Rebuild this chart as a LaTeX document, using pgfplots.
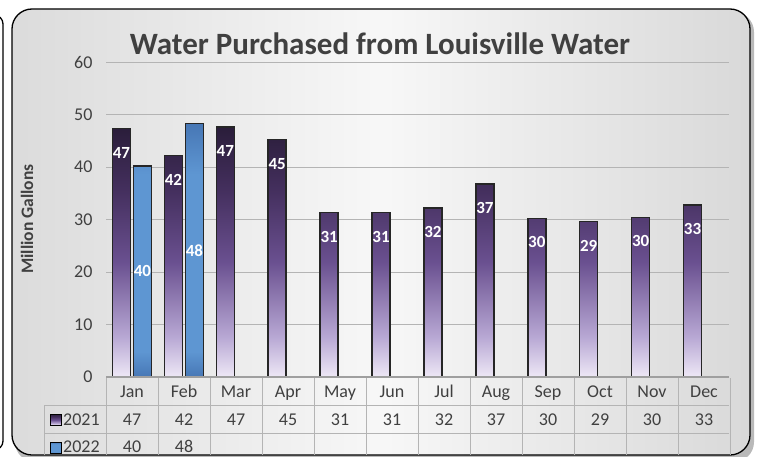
\documentclass[border=0pt]{standalone}
\usepackage{fontspec}
\setmainfont{Carlito}
\usepackage{pgfplots}
\pgfplotsset{compat=1.18}
\definecolor{txt}{HTML}{404040}
\definecolor{gridc}{HTML}{B4B4B4}
\definecolor{pA}{HTML}{2A1D3A}
\definecolor{pB}{HTML}{45305F}
\definecolor{pC}{HTML}{6A5090}
\definecolor{pD}{HTML}{B8A8D4}
\definecolor{pE}{HTML}{EEE8F6}
\definecolor{bA}{HTML}{4777B5}
\definecolor{bB}{HTML}{5E96D2}
\pgfdeclareverticalshading{purpbar}{100bp}{color(0bp)=(pE); color(25bp)=(pE); color(33bp)=(pD); color(48bp)=(pC); color(62bp)=(pB); color(75bp)=(pA); color(100bp)=(pA)}
\pgfdeclareverticalshading{bluebar}{100bp}{color(0bp)=(bA); color(25bp)=(bA); color(30bp)=(bB); color(65bp)=(bB); color(75bp)=(bA); color(100bp)=(bA)}

\begin{document}
\begin{tikzpicture}[x=1pt,y=1pt, cell/.style={text=txt, font=\fontsize{18}{18}\selectfont, anchor=base, inner sep=0pt}]
\useasboundingbox (0,0) rectangle (757,456);
% edge of the neighbouring panel
\draw[line width=1.3pt, rounded corners=9pt] (-20,441) -- (3,441) -- (3,6) -- (-20,6);
% panel with shadow
\fill[gray!55, rounded corners=20pt] (15,-6) rectangle (754,444);
\shade[left color=gray!28, right color=gray!30, middle color=gray!6, rounded corners=20pt] (12,1) rectangle (750,447);
\draw[line width=1.3pt, rounded corners=20pt] (12,1) rectangle (750,447);

% title and axis label
\node[anchor=base, text=txt, font=\bfseries\fontsize{31}{31}\selectfont] at (380,401) {Water Purchased from Louisville Water};
\node[rotate=90, text=txt, font=\bfseries\fontsize{17.5}{17.5}\selectfont] at (27,237) {Million Gallons};

\begin{axis}[
  at={(106pt,79pt)}, anchor=south west,
  scale only axis, width=623pt, height=315pt,
  xmin=-0.5, xmax=11.5, ymin=0, ymax=60,
  xtick=\empty, ytick={0,10,...,60},
  axis line style={draw=none},
  tick style={draw=none},
  ymajorgrids, grid style={gridc, line width=0.9pt},
  /pgf/number format/assume math mode=true,
  yticklabel style={text=txt, font=\fontsize{18}{18}\selectfont, xshift=-10pt},
  ybar=3pt, bar width=18pt,
  point meta=explicit symbolic,
  nodes near coords,
  clip=false,
]
\addplot[draw=black!85, line width=1.5pt, shading=purpbar,
  nodes near coords style={text=white, font=\bfseries\fontsize{17}{17}\selectfont, anchor=center, yshift=-24pt}]
  coordinates {(0,47.3)[47] (1,42.2)[42] (2,47.6)[47] (3,45.2)[45] (4,31.3)[31] (5,31.3)[31]
               (6,32.2)[32] (7,36.8)[37] (8,30.2)[30] (9,29.6)[29] (10,30.4)[30] (11,32.8)[33]};
\addplot[draw=black!85, line width=1.5pt, shading=bluebar,
  visualization depends on={rawy \as \rawy},
  nodes near coords style={text=white, font=\bfseries\fontsize{17}{17}\selectfont, anchor=center, yshift=-2.625pt*\rawy}]
  coordinates {(0,40.2)[40] (1,48.3)[48]};
\end{axis}

% data table under the axis
\foreach \k in {0,...,12} \draw[gridc, line width=1pt] (106+52*\k,78) -- (106+52*\k,1);
\draw[gridc, line width=1pt] (44,51) -- (729,51);
\draw[gridc, line width=1pt] (44,23) -- (729,23);
\draw[gridc, line width=1pt] (44,51) -- (44,1);
\draw[gray!75, line width=1.6pt] (106,79) -- (729,79);
\foreach \m [count=\i from 0] in {Jan,Feb,Mar,Apr,May,Jun,Jul,Aug,Sep,Oct,Nov,Dec}
  \node[cell] at (132+52*\i,59) {\m};
\foreach \v [count=\i from 0] in {47,42,47,45,31,31,32,37,30,29,30,33}
  \node[cell] at (132+52*\i,31) {\v};
\foreach \v [count=\i from 0] in {40,48}
  \node[cell] at (132+52*\i,4) {\v};
\shade[shading=purpbar, draw=black, line width=1pt] (50,31) rectangle (61,42);
\shade[shading=bluebar, draw=black, line width=1pt] (50,3) rectangle (61,14);
\node[cell, anchor=base west] at (63,31) {2021};
\node[cell, anchor=base west] at (63,4) {2022};
\end{tikzpicture}
\end{document}
